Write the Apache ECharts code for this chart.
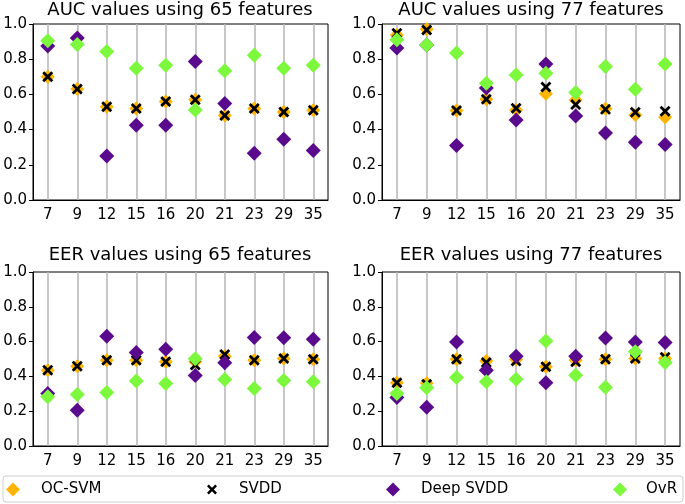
<!DOCTYPE html>
<html>
<head>
<meta charset="utf-8">
<script src="https://cdn.jsdelivr.net/npm/echarts@6/dist/echarts.min.js"></script>
<style>
  html, body { margin: 0; padding: 0; background: #fff; }
  #main { width: 685px; height: 504px; }
</style>
</head>
<body>
<div id="main"></div>
<script>
// categories (number of users / features index shown on x axis)
const features = ['7', '9', '12', '15', '16', '20', '21', '23', '29', '35'];
const yTicks = [0, 0.2, 0.4, 0.6, 0.8, 1.0];

// AUC, 65 features
const ocsvmAuc65 = [0.70, 0.63, 0.53, 0.52, 0.56, 0.57, 0.48, 0.52, 0.50, 0.51];
const svddAuc65 = [0.70, 0.63, 0.53, 0.52, 0.56, 0.57, 0.48, 0.52, 0.50, 0.51];
const deepAuc65 = [0.875, 0.92, 0.25, 0.425, 0.425, 0.787, 0.548, 0.266, 0.345, 0.281];
const ovrAuc65 = [0.905, 0.883, 0.844, 0.748, 0.765, 0.512, 0.734, 0.822, 0.748, 0.765];

// AUC, 77 features
const ocsvmAuc77 = [0.938, 0.970, 0.509, 0.573, 0.511, 0.604, 0.568, 0.518, 0.483, 0.470];
const svddAuc77 = [0.947, 0.966, 0.509, 0.573, 0.521, 0.642, 0.542, 0.515, 0.498, 0.504];
const deepAuc77 = [0.864, 0.880, 0.309, 0.636, 0.455, 0.773, 0.477, 0.381, 0.328, 0.315];
const ovrAuc77 = [0.910, 0.881, 0.835, 0.664, 0.710, 0.720, 0.611, 0.758, 0.629, 0.773];

// EER, 65 features
const ocsvmEer65 = [0.436, 0.459, 0.493, 0.493, 0.484, 0.484, 0.516, 0.493, 0.503, 0.499];
const svddEer65 = [0.436, 0.459, 0.493, 0.493, 0.484, 0.465, 0.526, 0.493, 0.503, 0.499];
const deepEer65 = [0.302, 0.205, 0.631, 0.537, 0.556, 0.405, 0.478, 0.623, 0.622, 0.613];
const ovrEer65 = [0.283, 0.296, 0.308, 0.373, 0.359, 0.501, 0.382, 0.331, 0.377, 0.369];

// EER, 77 features
const ocsvmEer77 = [0.363, 0.360, 0.499, 0.489, 0.497, 0.455, 0.493, 0.499, 0.503, 0.503];
const svddEer77 = [0.363, 0.355, 0.499, 0.480, 0.489, 0.455, 0.484, 0.499, 0.503, 0.510];
const deepEer77 = [0.279, 0.222, 0.598, 0.436, 0.516, 0.363, 0.516, 0.621, 0.598, 0.595];
const ovrEer77 = [0.302, 0.335, 0.394, 0.369, 0.383, 0.604, 0.407, 0.337, 0.541, 0.480];

const panelTitles = ['AUC values using 65 features', 'AUC values using 77 features',
                     'EER values using 65 features', 'EER values using 77 features'];
const panelData = [
    [ocsvmAuc65, svddAuc65, deepAuc65, ovrAuc65],
    [ocsvmAuc77, svddAuc77, deepAuc77, ovrAuc77],
    [ocsvmEer65, svddEer65, deepEer65, ovrEer65],
    [ocsvmEer77, svddEer77, deepEer77, ovrEer77]
];
const seriesNames = ['OC-SVM', 'SVDD', 'Deep SVDD', 'OvR'];

const FONT = 'DejaVu Sans';
const xMark = 'path://M0,1.8 L1.8,0 L5,3.2 L8.2,0 L10,1.8 L6.8,5 L10,8.2 L8.2,10 L5,6.8 L1.8,10 L0,8.2 L3.2,5 Z';
const styles = [
    { symbol: 'diamond', size: 14, color: '#ffb400' },
    { symbol: xMark, size: 11, color: '#000000' },
    { symbol: 'diamond', size: 15, color: '#5a0a8c' },
    { symbol: 'diamond', size: 15, color: '#7cf93c' }
];

const grids = [
    { left: 33, top: 24, width: 295, height: 176 },
    { left: 382, top: 24, width: 298, height: 176 },
    { left: 33, top: 272, width: 295, height: 174 },
    { left: 382, top: 272, width: 298, height: 174 }
];
const titlePos = [
    { left: 180, top: 1 }, { left: 531, top: 1 },
    { left: 180, top: 246 }, { left: 531, top: 246 }
];

const xAxes = [], yAxes = [], series = [], titles = [];
grids.forEach((g, i) => {
    g.show = true;
    g.borderColor = '#000';
    g.borderWidth = 1;
    titles.push({
        text: panelTitles[i],
        left: titlePos[i].left,
        top: titlePos[i].top,
        textAlign: 'center',
        padding: 0,
        textStyle: { fontFamily: FONT, fontSize: 18, fontWeight: 'normal', color: '#000' }
    });
    xAxes.push({
        type: 'category',
        gridIndex: i,
        data: features,
        boundaryGap: true,
        axisLine: { lineStyle: { color: '#000', width: 1 } },
        axisTick: { alignWithLabel: true, length: 4, lineStyle: { color: '#000' } },
        axisLabel: { fontFamily: FONT, fontSize: 15, color: '#000', margin: 8 },
        splitLine: { show: false }
    });
    yAxes.push({
        type: 'value',
        gridIndex: i,
        min: yTicks[0],
        max: yTicks[yTicks.length - 1],
        interval: 0.2,
        axisLine: { show: true, lineStyle: { color: '#000', width: 1 } },
        axisTick: { show: true, length: 4, lineStyle: { color: '#000' } },
        axisLabel: { fontFamily: FONT, fontSize: 15, color: '#000', margin: 6,
                     formatter: v => v.toFixed(1) },
        splitLine: { show: false }
    });
    panelData[i].forEach((vals, k) => {
        const s = {
            name: seriesNames[k],
            type: 'scatter',
            xAxisIndex: i,
            yAxisIndex: i,
            symbol: styles[k].symbol,
            symbolSize: styles[k].size,
            itemStyle: { color: styles[k].color, opacity: 1 },
            z: 2 + k,
            silent: true,
            data: vals.map((v, j) => [features[j], v])
        };
        if (k === 0) {
            // vertical grid lines at every category
            s.markLine = {
                silent: true,
                symbol: 'none',
                z: 1,
                label: { show: false },
                lineStyle: { color: '#b4b4b4', width: 1.5, type: 'solid' },
                data: features.map(f => ({ xAxis: f }))
            };
        }
        series.push(s);
    });
});

// legend: one component per entry so the columns sit where they do in the figure
const legendPos = [
    { left: 6, pad: 16, w: 14 },
    { left: 207, pad: 17, w: 10 },
    { left: 386, pad: 16, w: 14 },
    { left: 613, pad: 14, w: 14 }
];
const legends = seriesNames.map((n, k) => ({
    data: [{ name: n, icon: styles[k].symbol }],
    left: legendPos[k].left,
    top: 489 - 7,
    padding: 0,
    itemWidth: legendPos[k].w,
    itemHeight: k === 1 ? 10 : 14,
    selectedMode: false,
    textStyle: { fontFamily: FONT, fontSize: 15, color: '#000', padding: [0, 0, 0, legendPos[k].pad] }
}));

const chart = echarts.init(document.getElementById('main'), null, { renderer: 'canvas' });
chart.setOption({
    animation: false,
    backgroundColor: '#fff',
    title: titles,
    grid: grids,
    xAxis: xAxes,
    yAxis: yAxes,
    legend: legends,
    graphic: [{
        type: 'rect',
        z: -1,
        shape: { x: 3, y: 476, width: 680, height: 26, r: 3 },
        style: { fill: '#fff', stroke: '#cccccc', lineWidth: 1 }
    }],
    series: series
});
</script>
</body>
</html>
